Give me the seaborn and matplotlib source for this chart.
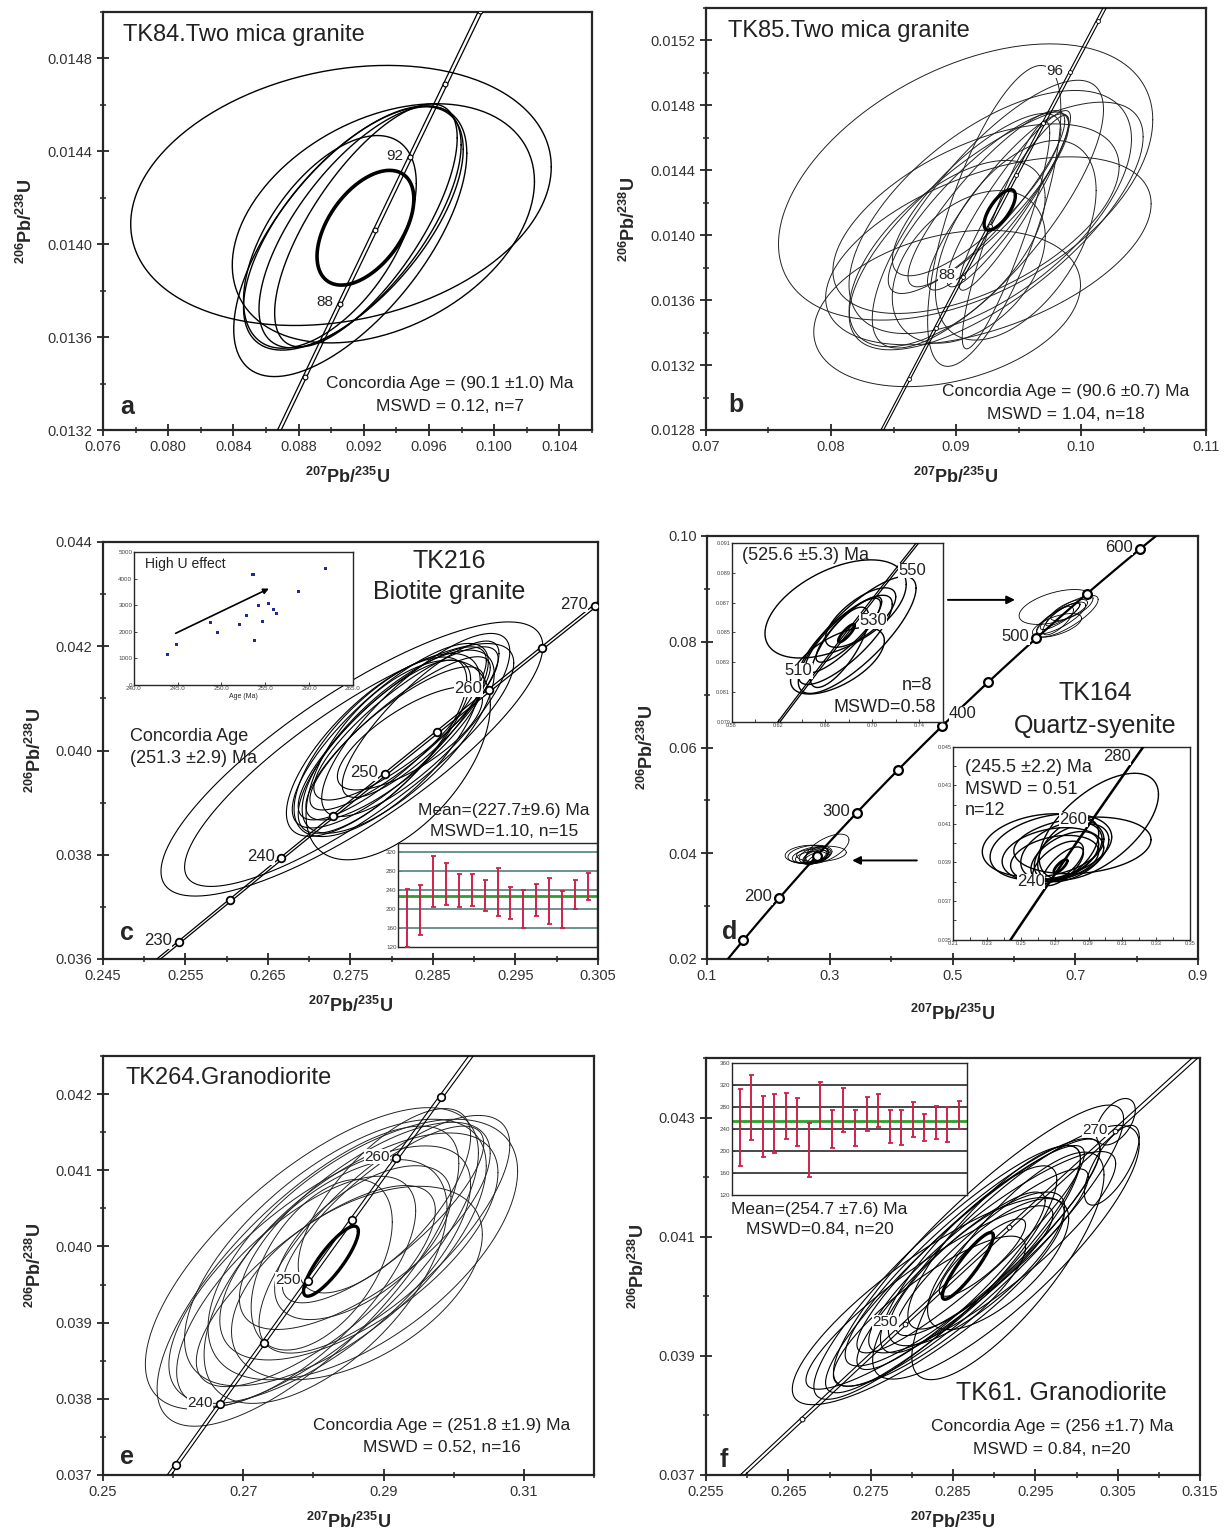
import numpy as np
import pandas as pd
import matplotlib
matplotlib.use('Agg')
import matplotlib.pyplot as plt
from matplotlib.ticker import MultipleLocator, FormatStrFormatter
import seaborn as sns

sns.set_style('ticks')
plt.rcParams['font.family'] = ['Liberation Sans', 'DejaVu Sans']
plt.rcParams['mathtext.fontset'] = 'custom'
plt.rcParams['mathtext.rm'] = 'Liberation Sans'
plt.rcParams['mathtext.bf'] = 'Liberation Sans:bold'

# decay constants (1/yr)
L238 = 1.55125e-10
L235 = 9.8485e-10

# ---- data: ellipses as (x, y, x half-range, y half-range, rho) ----
ell_a = [(0.0906, 0.01421, 0.0129, 0.00056, 0.22),
         (0.0932, 0.01409, 0.00927, 0.000515, 0.35),
         (0.09117, 0.014013, 0.00715, 0.000583, 0.65),
         (0.09136, 0.014068, 0.00674, 0.000524, 0.65),
         (0.09177, 0.014074, 0.00620, 0.00052, 0.68),
         (0.09213, 0.014081, 0.00560, 0.000523, 0.72),
         (0.08992, 0.01401, 0.00530, 0.000458, 0.55)]
mean_a = (0.0921, 0.014071, 0.00297, 0.000247, 0.5)

ell_b = [(0.09077, 0.014328, 0.01497, 0.000851, 0.45),
         (0.08929, 0.013549, 0.01067, 0.000482, 0.30),
         (0.09259, 0.013904, 0.01302, 0.000579, 0.50),
         (0.09321, 0.014057, 0.01176, 0.000763, 0.72),
         (0.09274, 0.014143, 0.01130, 0.000749, 0.60),
         (0.09255, 0.014130, 0.00925, 0.000825, 0.78),
         (0.09306, 0.014119, 0.00533, 0.000927, 0.70),
         (0.09180, 0.014200, 0.00722, 0.000559, 0.85),
         (0.09243, 0.014225, 0.00627, 0.000543, 0.88),
         (0.09337, 0.014205, 0.00565, 0.000543, 0.90),
         (0.09422, 0.014225, 0.00494, 0.000543, 0.92),
         (0.09463, 0.014200, 0.00439, 0.000539, 0.93),
         (0.09165, 0.014250, 0.00674, 0.000500, 0.80),
         (0.08929, 0.013887, 0.00784, 0.000574, 0.60),
         (0.09102, 0.013805, 0.00612, 0.000470, 0.40),
         (0.09160, 0.014102, 0.01145, 0.000584, 0.55),
         (0.09478, 0.013969, 0.00643, 0.000615, 0.50),
         (0.09400, 0.014000, 0.00350, 0.000700, 0.90)]
mean_b = (0.0935, 0.014156, 0.00125, 0.000125, 0.7)

ell_c = [(0.27517, 0.039837, 0.02314, 0.00263, 0.82),
         (0.27484, 0.039722, 0.01995, 0.00233, 0.84),
         (0.27982, 0.040284, 0.01188, 0.00177, 0.80),
         (0.28006, 0.040329, 0.01140, 0.00166, 0.84),
         (0.28078, 0.040170, 0.01164, 0.001756, 0.74),
         (0.27944, 0.040105, 0.01128, 0.001756, 0.70),
         (0.28101, 0.040329, 0.01093, 0.00147, 0.86),
         (0.28040, 0.040137, 0.01081, 0.00147, 0.82),
         (0.27911, 0.040073, 0.01045, 0.00166, 0.78),
         (0.28078, 0.039818, 0.01117, 0.001915, 0.55),
         (0.27816, 0.040073, 0.01093, 0.00172, 0.74),
         (0.28173, 0.040520, 0.01117, 0.00147, 0.84),
         (0.28291, 0.040490, 0.01140, 0.001756, 0.80),
         (0.28220, 0.040233, 0.00879, 0.00099, 0.74),
         (0.28350, 0.040600, 0.00950, 0.00150, 0.84)]

ell_d_hi = [(0.6687, 0.08658, 0.0602, 0.0033, 0.5),
            (0.6871, 0.08483, 0.0502, 0.00393, 0.8),
            (0.6770, 0.0845, 0.0400, 0.0030, 0.8),
            (0.6750, 0.0848, 0.0320, 0.0025, 0.85),
            (0.6800, 0.0852, 0.0280, 0.0022, 0.85),
            (0.6703, 0.0831, 0.0400, 0.00224, 0.6),
            (0.6900, 0.0860, 0.0300, 0.0020, 0.7),
            (0.6720, 0.0840, 0.0250, 0.0027, 0.75)]
mean_d_hi = (0.6780, 0.08495, 0.0070, 0.0006, 0.85)

ell_d_lo = [(0.2961, 0.04086, 0.0352, 0.00276, 0.6),
            (0.2864, 0.03988, 0.0405, 0.00147, 0.2),
            (0.2632, 0.03988, 0.0359, 0.00164, 0.2),
            (0.2678, 0.0398, 0.0359, 0.00172, 0.3),
            (0.2740, 0.0396, 0.0240, 0.00150, 0.4),
            (0.2760, 0.0393, 0.0200, 0.00130, 0.5),
            (0.2700, 0.0392, 0.0260, 0.00120, 0.3),
            (0.2780, 0.0397, 0.0180, 0.00160, 0.5),
            (0.2720, 0.0390, 0.0150, 0.00110, 0.6),
            (0.2750, 0.0388, 0.0120, 0.00100, 0.7),
            (0.2690, 0.0394, 0.0300, 0.00140, 0.25),
            (0.2800, 0.0395, 0.0220, 0.00150, 0.45)]
mean_d_lo = (0.2735, 0.0388, 0.0040, 0.00035, 0.8)

ell_e = [(0.27978, 0.039842, 0.02374, 0.00198, 0.70),
         (0.27922, 0.039610, 0.02151, 0.00197, 0.75),
         (0.28090, 0.039630, 0.02151, 0.00169, 0.70),
         (0.28313, 0.039920, 0.02151, 0.00175, 0.65),
         (0.28704, 0.039960, 0.02207, 0.00171, 0.60),
         (0.28648, 0.040000, 0.01983, 0.00149, 0.65),
         (0.28732, 0.040270, 0.01788, 0.00136, 0.70),
         (0.28173, 0.039540, 0.01732, 0.00160, 0.60),
         (0.28118, 0.039760, 0.01006, 0.00112, 0.50),
         (0.28704, 0.040050, 0.01257, 0.00101, 0.60),
         (0.27754, 0.039412, 0.01704, 0.00151, 0.70),
         (0.29012, 0.040600, 0.01229, 0.00121, 0.70),
         (0.28620, 0.039520, 0.01788, 0.00127, 0.50),
         (0.29012, 0.040160, 0.01788, 0.00156, 0.75),
         (0.28034, 0.039480, 0.01704, 0.00132, 0.75),
         (0.28992, 0.040420, 0.01436, 0.00116, 0.80)]
mean_e = (0.2825, 0.039807, 0.00391, 0.00046, 0.85)

ell_f = [(0.28200, 0.03992, 0.01652, 0.00174, 0.85),
         (0.28214, 0.03998, 0.01500, 0.00154, 0.90),
         (0.28429, 0.04040, 0.01619, 0.00213, 0.90),
         (0.28619, 0.04051, 0.01667, 0.00213, 0.92),
         (0.28810, 0.04085, 0.01762, 0.00236, 0.90),
         (0.29143, 0.04074, 0.01619, 0.00213, 0.85),
         (0.28738, 0.04074, 0.01548, 0.00191, 0.90),
         (0.28714, 0.04079, 0.01381, 0.00174, 0.92),
         (0.28786, 0.04046, 0.01071, 0.00129, 0.80),
         (0.29000, 0.04099, 0.01048, 0.00154, 0.85),
         (0.29167, 0.04051, 0.01167, 0.00191, 0.80),
         (0.28690, 0.04062, 0.01071, 0.00157, 0.85),
         (0.29048, 0.04054, 0.00857, 0.00110, 0.70),
         (0.28214, 0.03975, 0.01167, 0.00126, 0.85),
         (0.28476, 0.04026, 0.01143, 0.00149, 0.90),
         (0.30476, 0.04293, 0.00238, 0.00039, 0.50),
         (0.30429, 0.04220, 0.00333, 0.00067, 0.70),
         (0.28976, 0.04074, 0.01500, 0.00169, 0.88),
         (0.28976, 0.04074, 0.01167, 0.00140, 0.90),
         (0.28857, 0.04065, 0.00524, 0.00065, 0.85)]
mean_f = (0.2868, 0.04051, 0.0031, 0.00056, 0.9)

# concordia tick ages and labelled ages
ages_a = [84, 86, 88, 90, 92, 94, 96, 98]
lab_a = [88, 92]
ages_b = [84, 86, 88, 90, 92, 94, 96, 98, 100]
lab_b = [88, 96]
ages_c = [225, 230, 235, 240, 245, 250, 255, 260, 265, 270]
lab_c = [230, 240, 250, 260, 270]
ages_d = [150, 200, 250, 300, 350, 400, 450, 500, 550, 600]
lab_d = [200, 300, 400, 500, 600]
side_d = ['l', 'l', 'r', 'l', 'l']
lift_d = [1, 1, 9, 1, 1]
lab_d_hi = [510, 530, 550]
side_d_hi = ['l', 'r', 'r']
lab_d_lo = [240, 260, 280]
ages_e = [230, 235, 240, 245, 250, 255, 260, 265, 270]
lab_e = [240, 250, 260]
ages_f = [230, 240, 250, 260, 270, 280]
lab_f = [250, 270]

# High U inset (panel c)
hu_age = [243.9, 244.9, 248.8, 249.6, 252.1, 252.9, 253.6, 253.8, 254.2,
          254.7, 255.4, 255.9, 256.3, 258.8, 261.9]
hu_u = [1139, 1519, 2367, 1987, 2278, 2620, 4165, 1684, 3000, 2380, 3076,
        2848, 2684, 3506, 4392]
hu_arrow = ((244.5, 1899), (255.7, 3671))

# weighted mean insets
wm_c_lo = [120, 146.7, 204.9, 209.8, 204.9, 206, 195.8, 186.7, 179.6, 160.7,
           185.3, 169.8, 160.7, 200.7, 220.4]
wm_c_hi = [242.8, 252, 311.6, 297.5, 275, 275, 262.5, 287, 247, 241.4,
           253.3, 265.3, 237.9, 262.5, 276.5]
wm_c_mean = 227.7
wm_f_lo = [171.7, 219.7, 188.9, 196.9, 221.5, 208.6, 152, 239.4, 205.5, 235,
           209.2, 236.3, 243.1, 214.8, 210.5, 225.8, 218.5, 221.5, 215.4, 239.4]
wm_f_hi = [313.2, 337.8, 299.7, 302.8, 304.6, 296.6, 250.5, 325.5, 275, 315,
           275, 297.8, 302.8, 275, 275, 288.6, 267, 282.5, 280, 291.7]
wm_f_mean = 254.7


def conc(t_ma):
    t = np.asarray(t_ma, dtype=float) * 1e6
    return np.exp(L235 * t) - 1, np.exp(L238 * t) - 1


def ell_xy(e, n=240):
    cx, cy, sx, sy, r = e
    th = np.linspace(0, 2 * np.pi, n)
    return cx + sx * np.cos(th), cy + sy * (r * np.cos(th) + np.sqrt(1 - r * r) * np.sin(th))


def draw_ells(ax, ells, lw=0.8, color='black'):
    for e in ells:
        x, y = ell_xy(e)
        ax.plot(x, y, color=color, lw=lw, zorder=2)


def draw_conc(ax, t0, t1, gap=0.0012, lw=0.9, single=False):
    x, y = conc(np.linspace(t0, t1, 400))
    if single:
        ax.plot(x, y, color='black', lw=lw, zorder=3)
    else:
        ax.plot(x * (1 - gap), y, color='black', lw=lw, zorder=3)
        ax.plot(x * (1 + gap), y, color='black', lw=lw, zorder=3)


def draw_marks(ax, ages, s=25, lw=1.1):
    x, y = conc(ages)
    sns.scatterplot(x=x, y=y, ax=ax, s=s, color='white', edgecolor='black',
                    linewidth=lw, zorder=5, legend=False, clip_on=True)


def label_ages(ax, ages, sides=None, lifts=None, fs=11, dx=5):
    x, y = conc(ages)
    for i, a in enumerate(ages):
        sd = sides[i] if sides else 'l'
        dy = lifts[i] if lifts else 1
        off = -dx if sd == 'l' else dx
        ax.annotate(str(a), (x[i], y[i]), xytext=(off, dy), textcoords='offset points',
                    ha='right' if sd == 'l' else 'left', va='center', fontsize=fs,
                    color='#222222', zorder=6,
                    bbox=dict(fc='white', ec='none', pad=0.3))


def setup(ax, xlim, ylim, xt, yt, xfmt, yfmt, xpad=9):
    # xt / yt: (major step, minor step, offset)
    ax.set_xlim(*xlim)
    ax.set_ylim(*ylim)
    ax.xaxis.set_major_locator(MultipleLocator(xt[0], offset=xt[2]))
    ax.xaxis.set_minor_locator(MultipleLocator(xt[1], offset=xt[2]))
    ax.yaxis.set_major_locator(MultipleLocator(yt[0], offset=yt[2]))
    ax.yaxis.set_minor_locator(MultipleLocator(yt[1], offset=yt[2]))
    ax.xaxis.set_major_formatter(FormatStrFormatter(xfmt))
    ax.yaxis.set_major_formatter(FormatStrFormatter(yfmt))
    ax.tick_params(which='major', direction='inout', length=8, width=1.3,
                   labelsize=10.5, labelcolor='#333333')
    ax.tick_params(which='minor', direction='inout', length=5, width=1.1)
    for sp in ax.spines.values():
        sp.set_linewidth(1.6)
        sp.set_visible(True)
    ax.set_xlabel(r'$\mathbf{^{207}Pb/^{235}U}$', fontsize=13, labelpad=xpad)
    ax.set_ylabel(r'$\mathbf{^{206}Pb/^{238}U}$', fontsize=13, labelpad=8)


def small_inset(ax, fs=4.5):
    ax.tick_params(which='both', direction='in', length=2, width=0.6,
                   labelsize=fs, labelcolor='#444444', pad=1)
    for sp in ax.spines.values():
        sp.set_linewidth(1.0)
        sp.set_visible(True)


def wm_inset(ax, lo, hi, mean, ylim, grid_color):
    ax.set_ylim(*ylim)
    ax.set_xlim(0.3, len(lo) + 0.7)
    for g in range(160, 340, 40):
        ax.axhline(g, color=grid_color, lw=1.3, zorder=1)
    ax.axhline(mean, color='#2ca02c', lw=2.0, zorder=2)
    lo = np.array(lo)
    hi = np.array(hi)
    xs = np.arange(1, len(lo) + 1)
    ax.errorbar(xs, (lo + hi) / 2, yerr=(hi - lo) / 2, fmt='none', ecolor='#d0214a',
                elinewidth=1.4, capsize=1.8, capthick=1.3, zorder=3)
    ax.yaxis.set_major_locator(MultipleLocator(40))
    ax.set_xticks([])
    small_inset(ax)


fig = plt.figure(figsize=(12.28, 15.4), dpi=100)
W, H = 1228.0, 1540.0


def add_ax(l, r, t, b):
    return fig.add_axes([l / W, 1 - b / H, (r - l) / W, (b - t) / H])


title_fs = 17
txt_fs = 12.5

# ---------------- panel a ----------------
ax = add_ax(103, 592, 12, 430)
setup(ax, (0.076, 0.106), (0.0132, 0.0150), (0.004, 0.002, 0.0), (0.0004, 0.0002, 0.0),
      '%.3f', '%.4f')
draw_ells(ax, ell_a, lw=1.0)
draw_ells(ax, [mean_a], lw=2.6)
draw_conc(ax, 80, 102, gap=0.0013, lw=0.9)
draw_marks(ax, ages_a, s=12, lw=0.8)
label_ages(ax, lab_a)
ax.text(0.04, 0.945, 'TK84.Two mica granite', transform=ax.transAxes, fontsize=title_fs,
        va='center', color='#222222')
ax.text(0.71, 0.112, 'Concordia Age = (90.1 \u00b11.0) Ma', transform=ax.transAxes,
        fontsize=txt_fs, ha='center', va='center', color='#222222')
ax.text(0.71, 0.056, 'MSWD = 0.12, n=7', transform=ax.transAxes,
        fontsize=txt_fs, ha='center', va='center', color='#222222')
ax.text(0.035, 0.056, 'a', transform=ax.transAxes, fontsize=18, fontweight='bold', va='center')

# ---------------- panel b ----------------
ax = add_ax(706, 1206, 8, 430)
setup(ax, (0.07, 0.11), (0.0128, 0.0154), (0.01, 0.005, 0.0), (0.0004, 0.0002, 0.0),
      '%.2f', '%.4f')
draw_ells(ax, ell_b, lw=0.7, color='#222222')
draw_ells(ax, [mean_b], lw=2.4)
draw_conc(ax, 80, 106, gap=0.0013, lw=0.8)
draw_marks(ax, ages_b, s=8, lw=0.6)
label_ages(ax, lab_b)
ax.text(0.045, 0.945, 'TK85.Two mica granite', transform=ax.transAxes, fontsize=title_fs,
        va='center', color='#222222')
ax.text(0.72, 0.091, 'Concordia Age = (90.6 \u00b10.7) Ma', transform=ax.transAxes,
        fontsize=txt_fs, ha='center', va='center', color='#222222')
ax.text(0.72, 0.036, 'MSWD = 1.04, n=18', transform=ax.transAxes,
        fontsize=txt_fs, ha='center', va='center', color='#222222')
ax.text(0.045, 0.059, 'b', transform=ax.transAxes, fontsize=18, fontweight='bold', va='center')

# ---------------- panel c ----------------
ax = add_ax(103, 598, 542, 959)
setup(ax, (0.245, 0.305), (0.036, 0.044), (0.01, 0.005, 0.005), (0.002, 0.001, 0.0),
      '%.3f', '%.3f')
draw_ells(ax, ell_c, lw=0.8)
draw_conc(ax, 220, 280, gap=0.0009, lw=0.9)
draw_marks(ax, ages_c, s=30, lw=1.3)
label_ages(ax, lab_c, fs=12)
ax.text(0.70, 0.955, 'TK216', transform=ax.transAxes, fontsize=title_fs + 1,
        ha='center', va='center', color='#222222')
ax.text(0.70, 0.880, 'Biotite granite', transform=ax.transAxes, fontsize=title_fs + 1,
        ha='center', va='center', color='#222222')
ax.text(0.055, 0.533, 'Concordia Age', transform=ax.transAxes, fontsize=txt_fs + 0.5,
        va='center', color='#222222')
ax.text(0.055, 0.481, '(251.3 \u00b12.9) Ma', transform=ax.transAxes, fontsize=txt_fs + 0.5,
        va='center', color='#222222')
ax.text(0.035, 0.062, 'c', transform=ax.transAxes, fontsize=18, fontweight='bold', va='center')
ax.text(0.81, 0.355, 'Mean=(227.7\u00b19.6) Ma', transform=ax.transAxes, fontsize=txt_fs,
        ha='center', va='center', color='#222222')
ax.text(0.81, 0.305, 'MSWD=1.10, n=15', transform=ax.transAxes, fontsize=txt_fs,
        ha='center', va='center', color='#222222')

ins = ax.inset_axes([0.062, 0.657, 0.443, 0.319])
sns.scatterplot(x=hu_age, y=hu_u, ax=ins, marker='s', s=5, color='#1f2a9a',
                edgecolor='none', legend=False)
ins.annotate('', xy=hu_arrow[1], xytext=hu_arrow[0],
             arrowprops=dict(arrowstyle='-|>', lw=1.2, color='black', mutation_scale=8))
ins.set_xlim(240, 265)
ins.set_ylim(0, 5000)
ins.xaxis.set_major_locator(MultipleLocator(5))
ins.xaxis.set_major_formatter(FormatStrFormatter('%.1f'))
ins.yaxis.set_major_locator(MultipleLocator(1000))
small_inset(ins)
ins.set_xlabel('Age (Ma)', fontsize=5, labelpad=1)
ins.text(0.05, 0.88, 'High U effect', transform=ins.transAxes, fontsize=10, color='#222222')

ins = ax.inset_axes([0.596, 0.028, 0.402, 0.251])
wm_inset(ins, wm_c_lo, wm_c_hi, wm_c_mean, (120, 340), '#5f8a86')

# ---------------- panel d ----------------
ax = add_ax(707, 1198, 536, 959)
setup(ax, (0.1, 0.9), (0.02, 0.10), (0.2, 0.1, 0.1), (0.02, 0.01, 0.0), '%.1f', '%.2f',
      xpad=15)
draw_ells(ax, ell_d_hi, lw=0.6)
draw_ells(ax, ell_d_lo, lw=0.6)
draw_conc(ax, 100, 700, lw=1.6, single=True)
draw_marks(ax, ages_d, s=40, lw=1.6)
label_ages(ax, lab_d, sides=side_d, lifts=lift_d, fs=12)
ax.text(0.79, 0.628, 'TK164', transform=ax.transAxes, fontsize=title_fs + 1,
        ha='center', va='center', color='#222222')
ax.text(0.79, 0.550, 'Quartz-syenite', transform=ax.transAxes, fontsize=title_fs + 1,
        ha='center', va='center', color='#222222')
ax.text(0.03, 0.065, 'd', transform=ax.transAxes, fontsize=18, fontweight='bold', va='center')
ax.annotate('', xy=(0.633, 0.849), xytext=(0.485, 0.849), xycoords='axes fraction',
            arrowprops=dict(arrowstyle='-|>', lw=1.4, color='black', mutation_scale=12))
ax.annotate('', xy=(0.290, 0.233), xytext=(0.433, 0.233), xycoords='axes fraction',
            arrowprops=dict(arrowstyle='-|>', lw=1.4, color='black', mutation_scale=12))

ins = ax.inset_axes([0.050, 0.561, 0.430, 0.422])
draw_ells(ins, ell_d_hi, lw=1.0)
draw_ells(ins, [mean_d_hi], lw=2.0)
draw_conc(ins, 470, 600, gap=0.0015, lw=0.9)
label_ages(ins, lab_d_hi, sides=side_d_hi, fs=12, dx=3)
ins.set_xlim(0.58, 0.76)
ins.set_ylim(0.079, 0.091)
ins.xaxis.set_major_locator(MultipleLocator(0.04, offset=0.02))
ins.xaxis.set_minor_locator(MultipleLocator(0.02))
ins.yaxis.set_major_locator(MultipleLocator(0.002, offset=0.001))
ins.xaxis.set_major_formatter(FormatStrFormatter('%.2f'))
ins.yaxis.set_major_formatter(FormatStrFormatter('%.3f'))
small_inset(ins, fs=4)
ins.text(0.05, 0.93, '(525.6 \u00b15.3) Ma', transform=ins.transAxes, fontsize=13, va='center',
         color='#222222')
ins.text(0.95, 0.20, 'n=8', transform=ins.transAxes, fontsize=13, ha='right', va='center',
         color='#222222')
ins.text(0.97, 0.08, 'MSWD=0.58', transform=ins.transAxes, fontsize=13, ha='right',
         va='center', color='#222222')

ins = ax.inset_axes([0.501, 0.046, 0.483, 0.456])
draw_ells(ins, ell_d_lo, lw=1.0)
draw_ells(ins, [mean_d_lo], lw=2.0)
draw_conc(ins, 200, 300, lw=1.8, single=True)
label_ages(ins, lab_d_lo, fs=12, dx=3)
ins.set_xlim(0.21, 0.35)
ins.set_ylim(0.035, 0.045)
ins.xaxis.set_major_locator(MultipleLocator(0.02, offset=0.01))
ins.xaxis.set_minor_locator(MultipleLocator(0.01))
ins.yaxis.set_major_locator(MultipleLocator(0.002, offset=0.001))
ins.yaxis.set_minor_locator(MultipleLocator(0.001))
ins.xaxis.set_major_formatter(FormatStrFormatter('%.2f'))
ins.yaxis.set_major_formatter(FormatStrFormatter('%.3f'))
small_inset(ins, fs=4)
ins.text(0.05, 0.89, '(245.5 \u00b12.2) Ma', transform=ins.transAxes, fontsize=13, va='center',
         color='#222222')
ins.text(0.05, 0.78, 'MSWD = 0.51', transform=ins.transAxes, fontsize=13, va='center',
         color='#222222')
ins.text(0.05, 0.67, 'n=12', transform=ins.transAxes, fontsize=13, va='center',
         color='#222222')

# ---------------- panel e ----------------
ax = add_ax(103, 594, 1056, 1475)
setup(ax, (0.25, 0.32), (0.037, 0.0425), (0.02, 0.01, 0.01), (0.001, 0.0005, 0.0),
      '%.2f', '%.3f')
draw_ells(ax, ell_e, lw=0.7, color='#222222')
draw_ells(ax, [mean_e], lw=2.4)
draw_conc(ax, 225, 280, gap=0.0011, lw=0.8)
draw_marks(ax, ages_e, s=30, lw=1.2)
label_ages(ax, lab_e)
ax.text(0.045, 0.947, 'TK264.Granodiorite', transform=ax.transAxes, fontsize=title_fs,
        va='center', color='#222222')
ax.text(0.69, 0.119, 'Concordia Age = (251.8 \u00b11.9) Ma', transform=ax.transAxes,
        fontsize=txt_fs, ha='center', va='center', color='#222222')
ax.text(0.69, 0.066, 'MSWD = 0.52, n=16', transform=ax.transAxes,
        fontsize=txt_fs, ha='center', va='center', color='#222222')
ax.text(0.035, 0.044, 'e', transform=ax.transAxes, fontsize=18, fontweight='bold', va='center')

# ---------------- panel f ----------------
ax = add_ax(706, 1200, 1058, 1475)
setup(ax, (0.255, 0.315), (0.037, 0.044), (0.01, 0.005, 0.005), (0.002, 0.001, 0.001),
      '%.3f', '%.3f')
draw_ells(ax, ell_f, lw=0.8)
draw_ells(ax, [mean_f], lw=2.4)
draw_conc(ax, 225, 290, gap=0.0011, lw=0.8)
draw_marks(ax, ages_f, s=12, lw=0.7)
label_ages(ax, lab_f)
ax.text(0.72, 0.196, 'TK61. Granodiorite', transform=ax.transAxes, fontsize=title_fs + 1,
        ha='center', va='center', color='#222222')
ax.text(0.70, 0.116, 'Concordia Age = (256 \u00b11.7) Ma', transform=ax.transAxes,
        fontsize=txt_fs, ha='center', va='center', color='#222222')
ax.text(0.70, 0.060, 'MSWD = 0.84, n=20', transform=ax.transAxes,
        fontsize=txt_fs, ha='center', va='center', color='#222222')
ax.text(0.028, 0.035, 'f', transform=ax.transAxes, fontsize=18, fontweight='bold', va='center')
ax.text(0.23, 0.636, 'Mean=(254.7 \u00b17.6) Ma', transform=ax.transAxes, fontsize=txt_fs,
        ha='center', va='center', color='#222222')
ax.text(0.23, 0.588, 'MSWD=0.84, n=20', transform=ax.transAxes, fontsize=txt_fs,
        ha='center', va='center', color='#222222')

ins = ax.inset_axes([0.052, 0.672, 0.476, 0.316])
wm_inset(ins, wm_f_lo, wm_f_hi, wm_f_mean, (120, 360), '#3a3a3a')

fig.savefig('out.png', dpi=100)
